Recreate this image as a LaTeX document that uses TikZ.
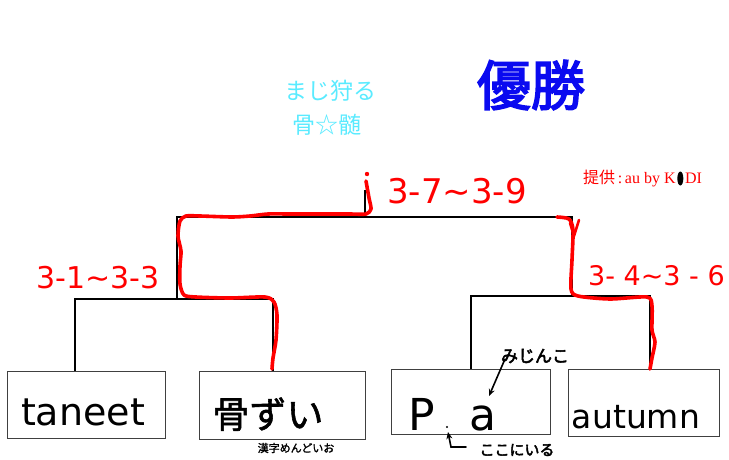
\documentclass[tikz,border=0pt]{standalone}
\usepackage{fontspec}
\setmainfont{Liberation Serif}
\newfontfamily\cjk{Noto Sans CJK JP}
\newfontfamily\cjkb[FakeBold=3]{Noto Sans CJK JP}
\newfontfamily\cjkm[FakeBold=1.5]{Noto Sans CJK JP}
\newfontfamily\hand{DejaVu Sans}
\usetikzlibrary{arrows.meta}
\definecolor{cy}{RGB}{90,235,255}
\definecolor{bl}{RGB}{10,10,240}
\definecolor{rd}{RGB}{255,0,0}
\begin{document}
\begin{tikzpicture}[x=1pt,y=-1pt,
  box/.style={draw=black!75,line width=0.9pt,inner sep=0pt,fill=none},
  br/.style={draw=black,line width=1.4pt},
  redline/.style={draw=rd,line width=3.6pt,line cap=round,line join=round},
  hw/.style={inner sep=0pt,anchor=base,font=\hand},
  redlab/.style={inner sep=0pt,text=rd,font=\hand},
  harrow/.style={draw=black,line width=1.6pt,line cap=round,-{Stealth[length=7pt,width=6pt]}}]
\fill[white] (0,0) rectangle (729,459);
\useasboundingbox (0,0) rectangle (729,459);

% titles
\node[inner sep=0pt,text=cy,font=\cjk\fontsize{23}{26}\selectfont] (t1) at (330,91) {まじ狩る};
\node[inner sep=0pt,text=cy,font=\cjk\fontsize{23}{26}\selectfont] (t2) at (327,125) {骨☆髄};
\node[inner sep=0pt,text=bl,font=\cjkb\fontsize{54}{60}\selectfont] (win) at (531,85) {優勝};

% sponsor
\node[inner sep=0pt,anchor=base west,text=rd,font=\fontsize{16}{18}\selectfont] (sp) at (583,183) {{\cjk 提供}\,:\,au by K};
\fill[black] ([xshift=4.5pt,yshift=4.5pt]sp.base east) ellipse (3pt and 7pt);
\node[inner sep=0pt,anchor=base west,text=rd,font=\fontsize{16}{18}\selectfont] (sp2) at ([xshift=9pt]sp.base east) {DI};

% boxes
\node[box,minimum width=158pt,minimum height=67pt] (b1) at (86,404.5) {};
\node[box,minimum width=166pt,minimum height=68pt] (b2) at (282,405) {};
\node[box,minimum width=159pt,minimum height=65pt] (b3) at (470.5,401.5) {};
\node[box,minimum width=151pt,minimum height=67pt] (b4) at (643.5,402.5) {};

% box texts
\node[hw,font=\hand\fontsize{38}{40}\selectfont] (x1) at (83,425) {taneet};
\node[hw,font=\cjkm\fontsize{37}{40}\selectfont] (x2) at (268,428) {骨ずい};
\node[hw,font=\hand\fontsize{44}{46}\selectfont] (x3a) at (422,430) {P};
\node[hw,font=\hand\fontsize{44}{46}\selectfont] (x3b) at (483,430) {a};
\node[hw,font=\hand\fontsize{33}{36}\selectfont] (x4) at (636,428) {autumn};

% notes
\node[inner sep=0pt,font=\cjkb\fontsize{17}{20}\selectfont] (n1) at (535,356) {みじんこ};
\node[inner sep=0pt,font=\cjkb\fontsize{15}{18}\selectfont] (n2) at (517,450) {ここにいる};
\node[inner sep=0pt,font=\cjkm\fontsize{11}{13}\selectfont] (n3) at (296,448) {漢字めんどいお};
\coordinate (a1s) at (505,359);
\coordinate (a1e) at (489,396);
\draw[harrow] (a1s) -- (a1e);
\coordinate (a2s) at (466,447);
\coordinate (a2m) at (451,447);
\coordinate (a2e) at (448,432);
\draw[harrow] (a2s) -- (a2m) -- (a2e);
\fill (447,427) circle (1.2pt);

% bracket coordinates
\coordinate (A1) at (75,299);
\coordinate (A2) at (273,299);
\coordinate (M1) at (177,299);
\coordinate (T1) at (177,217);
\coordinate (T2) at (572,217);
\coordinate (M2) at (572,296);
\coordinate (B1) at (471,296);
\coordinate (B2) at (650,296);
\coordinate (Top) at (365,217);
\coordinate (TopE) at (365,190);

\draw[br] (A1 |- b1.north) -- (A1) -- (A2) -- (A2 |- b2.north);
\draw[br] (M1) -- (T1) -- (T2) -- (M2);
\draw[br] (B1 |- b3.north) -- (B1) -- (B2) -- (B2 |- b4.north);
\draw[br] (Top) -- (TopE);

% red winner paths
\fill[rd] (367,174) circle (2.2pt);
\draw[redline] plot[smooth,tension=0.45] coordinates {(366,181) (369,198) (371,209) (366,214) (350,214) (320,214) (290,214) (268,214) (250,216) (232,217) (200,216) (186,216) (180,221) (178,236) (181,251) (180,266) (180,284) (184,295) (196,297) (230,298) (265,297) (274,302) (277,315) (276,340) (273,358) (272,369)};
\draw[redline] plot[smooth,tension=0.45] coordinates {(557,217) (569,219) (573,230) (572,260) (571,289) (578,296) (610,299) (647,297) (652,306) (652,330) (655,342) (652,358) (650,369)};
\draw[redline,line width=2.6pt] (570,223) -- (574,236) -- (579,220);

% red date labels
\node[redlab,font=\hand\fontsize{34}{36}\selectfont] (d1) at (457,191) {3-7\char"7E 3-9};
\node[redlab,font=\hand\fontsize{30}{32}\selectfont] (d2) at (98,278) {3-1\char"7E 3-3};
\node[redlab,anchor=west,font=\hand\fontsize{27}{30}\selectfont] (d3) at (588,276) {3- 4\char"7E 3 - 6};
\end{tikzpicture}
\end{document}
